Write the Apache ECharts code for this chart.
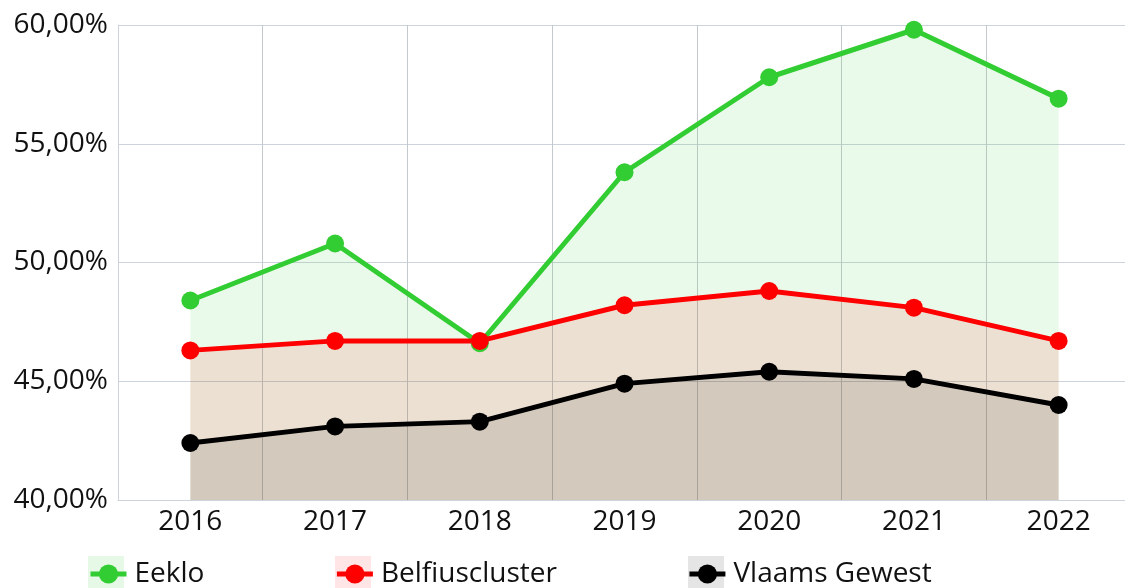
<!DOCTYPE html>
<html>
<head>
<meta charset="utf-8">
<script src="https://cdn.jsdelivr.net/npm/echarts@6/dist/echarts.min.js"></script>
<style>
  html, body { margin: 0; padding: 0; background: #fff; }
  #chart { width: 1125px; height: 588px; }
</style>
</head>
<body>
<div id="chart"></div>
<script>
  const years = ['2016', '2017', '2018', '2019', '2020', '2021', '2022'];
  const eeklo = [48.4, 50.8, 46.6, 53.8, 57.8, 59.8, 56.9];
  const belfius = [46.3, 46.7, 46.7, 48.2, 48.8, 48.1, 46.7];
  const vlaams = [42.4, 43.1, 43.3, 44.9, 45.4, 45.1, 44.0];
  const seriesNames = ['Eeklo', 'Belfiuscluster', 'Vlaams Gewest'];
  const seriesColors = ['#32cd32', '#ff0000', '#000000'];

  const font = '"Open Sans", "Noto Sans", sans-serif';
  const chart = echarts.init(document.getElementById('chart'));

  function lineSeries(name, data, color) {
    return {
      name: name,
      type: 'line',
      data: data,
      symbol: 'circle',
      symbolSize: 18,
      itemStyle: { color: color },
      lineStyle: { color: color, width: 5 },
      areaStyle: { color: color, opacity: 0.1, origin: 'start' },
      emphasis: { disabled: true }
    };
  }

  // light squares behind the legend icons
  const legendBg = [
    { x: 88, fill: 'rgba(50,205,50,0.12)' },
    { x: 335, fill: 'rgba(255,0,0,0.1)' },
    { x: 688, fill: 'rgba(0,0,0,0.1)' }
  ];

  chart.setOption({
    animation: false,
    grid: { left: 118, width: 1013, top: 25, bottom: 88, outerBoundsMode: 'none' },
    xAxis: {
      type: 'category',
      data: years,
      boundaryGap: true,
      axisLine: { show: true, lineStyle: { color: '#ccd3dc' } },
      axisTick: { show: false },
      axisLabel: { color: '#111', fontSize: 28, fontFamily: font, margin: 8 },
      splitLine: { show: true, lineStyle: { color: '#c4c9ce', width: 1 } }
    },
    yAxis: {
      type: 'value',
      min: 40,
      max: 60,
      interval: 5,
      axisLine: { show: true, lineStyle: { color: '#ccd3dc' } },
      axisTick: { show: false },
      axisLabel: {
        color: '#111',
        fontSize: 28,
        fontFamily: font,
        margin: 10,
        formatter: (v) => v.toFixed(2).replace('.', ',') + '%'
      },
      splitLine: { show: true, lineStyle: { color: '#ccd3dc', width: 1 } }
    },
    legend: {
      data: seriesNames,
      left: 88,
      top: 560,
      padding: 0,
      itemWidth: 36,
      itemHeight: 24,
      itemGap: 130,
      lineStyle: { width: 5 },
      textStyle: { color: '#111', fontSize: 28, fontFamily: font, padding: [0, 0, 0, 3] }
    },
    graphic: legendBg.map((b) => ({
      type: 'rect',
      left: b.x,
      top: 556,
      z: -1,
      shape: { width: 36, height: 34 },
      style: { fill: b.fill }
    })),
    series: [
      lineSeries(seriesNames[0], eeklo, seriesColors[0]),
      lineSeries(seriesNames[1], belfius, seriesColors[1]),
      lineSeries(seriesNames[2], vlaams, seriesColors[2])
    ]
  });
</script>
</body>
</html>
